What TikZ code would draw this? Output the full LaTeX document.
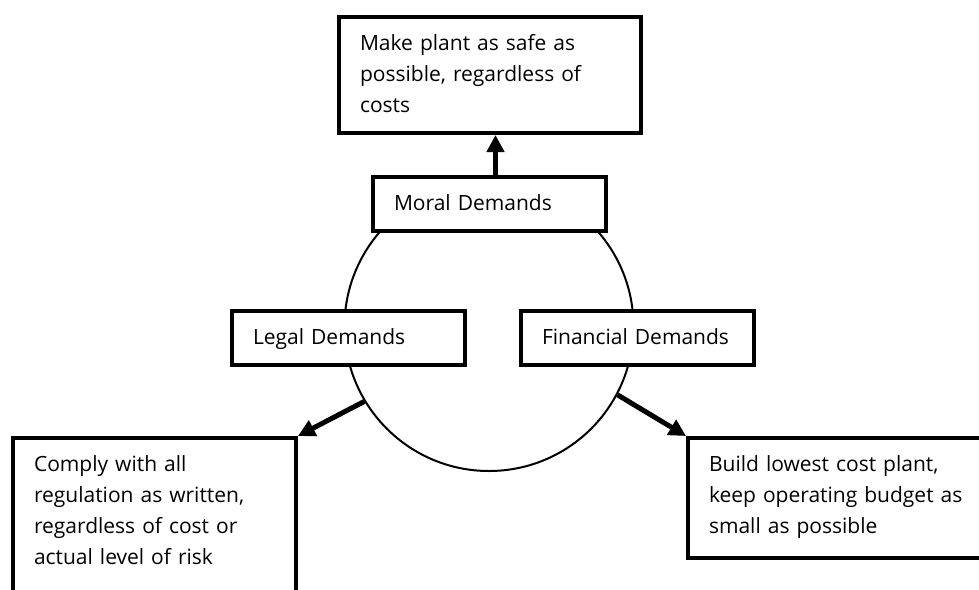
\documentclass[tikz,border=0pt]{standalone}
\usepackage{fontspec}
\setmainfont{Open Sans}
\usetikzlibrary{arrows.meta}
\hyphenpenalty=10000

\begin{document}
\begin{tikzpicture}[x=1pt,y=-1pt,
  >={Triangle[length=17pt,width=17pt]},
  every node/.style={font=\fontsize{21}{31}\selectfont},
  demand/.style={draw,line width=4pt,fill=white,anchor=north west,align=left,
    inner xsep=21pt,inner ysep=0pt,text height=33pt,text depth=21pt,text width=191pt},
  goal/.style={draw,line width=4pt,fill=white,anchor=north west,align=left,
    inner xsep=21pt,inner ysep=0pt,text height=33pt},
  push/.style={->,line width=5pt}]
\useasboundingbox[fill=white] (0,0) rectangle (979,589);

% the three demands sit on one circle
\node[circle,draw,line width=2pt,minimum size=289pt,inner sep=0pt] (core) at (489,326.5) {};
\node[demand] (moral) at (371,175) {Moral Demands};
\node[demand] (legal) at (230,309) {Legal Demands};
\node[demand] (financial) at (519,309) {Financial Demands};

% what each one asks for
\node[goal,text width=260pt,text depth=83pt] (safe) at (337,15) {Make plant as safe as\\possible, regardless of\\costs};
\node[goal,text width=241pt,text depth=147pt] (comply) at (11,436) {Comply with all\\regulation as written,\\regardless of cost or\\actual level of risk};
\node[goal,text width=280pt,text depth=87pt] (cheap) at (686,436) {Build lowest cost plant,\\keep operating budget as\\small as possible};

\draw[push] ([xshift=6pt]moral.north) -- ([xshift=6pt]moral.north |- safe.south);
\draw[push] (core.211) -- (comply.north east);
\draw[push] (core.-28) -- (cheap.north west);
\end{tikzpicture}
\end{document}
